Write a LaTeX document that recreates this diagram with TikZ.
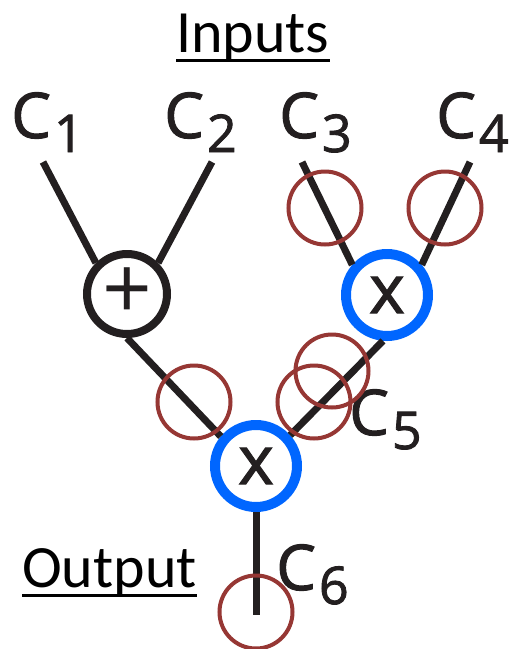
\documentclass[tikz,border=0pt]{standalone}
\usepackage{fontspec}
\setmainfont{Open Sans}
\newfontfamily\headfont{Carlito}
\newfontfamily\varfont[FakeBold=1.6]{Open Sans}
\definecolor{ink}{HTML}{231F20}
\definecolor{opblue}{HTML}{0066FF}
\definecolor{ringred}{HTML}{963734}
\newcommand\varC[1]{C\kern3pt\raisebox{-14pt}{\fontsize{52}{52}\selectfont #1}}
\tikzset{
  wire/.style={draw=ink, line width=7pt},
  sumnode/.style={circle, draw=ink, line width=8pt, minimum size=80pt, inner sep=0pt,
    text=ink, font=\fontsize{87}{87}\selectfont},
  mulnode/.style={circle, draw=opblue, line width=10pt, minimum size=82pt, inner sep=0pt,
    text=ink, font=\varfont\fontsize{68}{68}\selectfont},
  ring/.style={circle, draw=ringred, line width=4pt, minimum size=73pt, inner sep=0pt},
  varlabel/.style={anchor=base west, inner sep=0pt, text=ink, font=\varfont\fontsize{63}{63}\selectfont},
  heading/.style={anchor=base west, inner sep=0pt, font=\headfont\fontsize{60}{60}\selectfont},
}
\begin{document}
\begin{tikzpicture}[x=1pt, y=-1pt]
  \useasboundingbox (0,0) rectangle (510,649);

  % headings
  \node[heading] (inputs) at (176,52) {Inputs};
  \node[heading] (output) at (22,587) {Output};
  \draw[line width=3pt] ([yshift=-8pt]inputs.base west) -- ([yshift=-8pt]inputs.base east);
  \draw[line width=3pt] ([yshift=-8pt]output.base west) -- ([yshift=-8pt]output.base east);

  % variable labels
  \node[varlabel] (c1) at (11,138) {\varC{1}};
  \node[varlabel] (c2) at (164,138) {\varC{2}};
  \node[varlabel] (c3) at (279,138) {\varC{3}};
  \node[varlabel] (c4) at (436,138) {\varC{4}};
  \node[varlabel] (c5) at (349,435) {\varC{5}};
  \node[varlabel] (c6) at (276,590) {\varC{6}};

  % operation nodes
  \node[sumnode] (sum) at (127,294) {+};
  \node[mulnode] (mulA) at (387,295) {x};
  \node[mulnode] (mulB) at (256,466) {x};

  % free ends of the wires
  \coordinate (t1) at (43,162);
  \coordinate (t2) at (212,162);
  \coordinate (t3) at (302,162);
  \coordinate (t4) at (470,162);
  \coordinate (out) at (256,615);

  % wires
  \draw[wire] (t1) -- (sum.135);
  \draw[wire] (t2) -- (sum.45);
  \draw[wire] (t3) -- (mulA.139);
  \draw[wire] (t4) -- (mulA.41);
  \draw[wire] (sum.south) -- (mulB.140);
  \draw[wire] (mulA.-95) -- (mulB.42);
  \draw[wire] (mulB.south) -- (out);

  % red rings
  \node[ring] (r1) at (325,208) {};
  \node[ring] (r2) at (445,208) {};
  \node[ring] (r3) at (194,402) {};
  \node[ring] (r4) at (332,371) {};
  \node[ring] (r5) at (314,402) {};
  \node[ring] (r6) at (256,612) {};
\end{tikzpicture}
\end{document}
